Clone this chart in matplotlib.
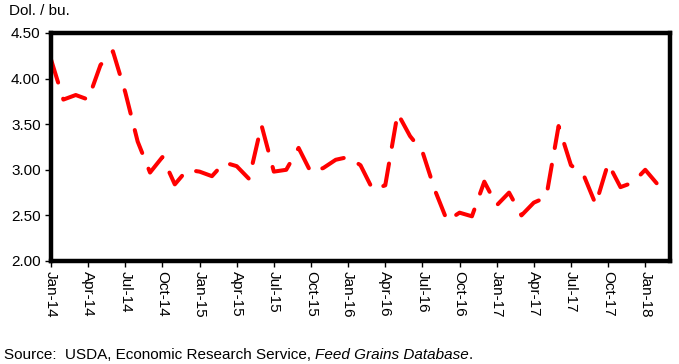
import matplotlib
matplotlib.use("Agg")
import matplotlib.pyplot as plt

months = ["Jan-14","Feb-14","Mar-14","Apr-14","May-14","Jun-14","Jul-14","Aug-14","Sep-14","Oct-14","Nov-14","Dec-14",
          "Jan-15","Feb-15","Mar-15","Apr-15","May-15","Jun-15","Jul-15","Aug-15","Sep-15","Oct-15","Nov-15","Dec-15",
          "Jan-16","Feb-16","Mar-16","Apr-16","May-16","Jun-16","Jul-16","Aug-16","Sep-16","Oct-16","Nov-16","Dec-16",
          "Jan-17","Feb-17","Mar-17","Apr-17","May-17","Jun-17","Jul-17","Aug-17","Sep-17","Oct-17","Nov-17","Dec-17",
          "Jan-18","Feb-18","Mar-18"]
prices = [4.21, 3.77, 3.82, 3.77, 4.15, 4.30, 3.85, 3.31, 2.97, 3.14, 2.84, 3.00,
          2.98, 2.93, 3.08, 3.04, 2.90, 3.49, 2.98, 3.00, 3.24, 2.97, 3.02, 3.11,
          3.14, 3.05, 2.78, 2.83, 3.62, 3.37, 3.20, 2.78, 2.44, 2.53, 2.49, 2.87,
          2.61, 2.75, 2.50, 2.64, 2.70, 3.48, 3.05, 2.95, 2.62, 3.07, 2.81, 2.86,
          3.00, 2.84, 2.87]
y_ticks = [2.00, 2.50, 3.00, 3.50, 4.00, 4.50]

plt.rcParams['font.family'] = ['Liberation Sans', 'DejaVu Sans']
FS = 11

W, H = 679, 364
fig = plt.figure(figsize=(W/100, H/100), dpi=100)
ax = fig.add_axes([51/W, 1-261/H, (670-51)/W, (261-33)/H])

x = list(range(len(prices)))
ax.plot(x, prices, color='#ff0000', lw=2.9, linestyle=(0, (6, 4.2)),
        dash_capstyle='round', solid_capstyle='round', dash_joinstyle='round')

ax.set_xlim(0, len(prices)-1)
ax.set_ylim(2.0, 4.5)
ax.set_yticks(y_ticks)
ax.set_yticklabels([f"{v:.2f}" for v in y_ticks], fontsize=FS)
tick_idx = list(range(0, len(months), 3))
ax.set_xticks(tick_idx)
ax.set_xticklabels([months[i] for i in tick_idx], rotation=-90, fontsize=FS, va='top', ha='center')

for s in ax.spines.values():
    s.set_linewidth(3.2)
    s.set_color('black')
ax.tick_params(axis='both', direction='out', length=4.5, width=1, color='black', pad=3)

fig.text(9/W, 1-11/H, "Dol. / bu.", fontsize=FS, va='center', ha='left')
y_src = 1-355/H
t = fig.text(4/W, y_src, "Source:  USDA, Economic Research Service, ", fontsize=FS, va='center', ha='left')
fig.canvas.draw()
r = fig.canvas.get_renderer()
bb = t.get_window_extent(renderer=r)
t2 = fig.text(bb.x1/W, y_src, "Feed Grains Database", fontsize=FS, va='center', ha='left', style='italic')
bb2 = t2.get_window_extent(renderer=r)
fig.text(bb2.x1/W, y_src, ".", fontsize=FS, va='center', ha='left')

fig.savefig("out.png", dpi=100)
